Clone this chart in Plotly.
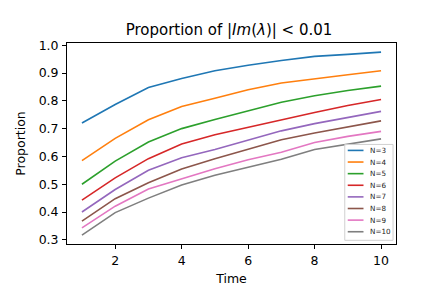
import plotly.graph_objects as go

# ---- data ----
time = [1, 2, 3, 4, 5, 6, 7, 8, 9, 10]
n3 = [0.720, 0.787, 0.848, 0.880, 0.908, 0.928, 0.945, 0.960, 0.967, 0.975]
n4 = [0.585, 0.665, 0.732, 0.780, 0.809, 0.840, 0.864, 0.880, 0.894, 0.908]
n5 = [0.500, 0.583, 0.652, 0.700, 0.733, 0.765, 0.795, 0.818, 0.837, 0.853]
n6 = [0.443, 0.523, 0.592, 0.645, 0.678, 0.705, 0.733, 0.758, 0.783, 0.805]
n7 = [0.400, 0.481, 0.550, 0.595, 0.625, 0.658, 0.692, 0.718, 0.740, 0.762]
n8 = [0.367, 0.448, 0.505, 0.555, 0.592, 0.627, 0.660, 0.684, 0.706, 0.728]
n9 = [0.343, 0.421, 0.483, 0.520, 0.556, 0.588, 0.615, 0.650, 0.672, 0.690]
n10 = [0.317, 0.398, 0.450, 0.497, 0.532, 0.560, 0.590, 0.625, 0.645, 0.663]

series = [n3, n4, n5, n6, n7, n8, n9, n10]
names = ["N=3", "N=4", "N=5", "N=6", "N=7", "N=8", "N=9", "N=10"]
colors = ["#1f77b4", "#ff7f0e", "#2ca02c", "#d62728",
          "#9467bd", "#8c564b", "#e377c2", "#7f7f7f"]
y_ticks = [0.3, 0.4, 0.5, 0.6, 0.7, 0.8, 0.9, 1.0]
x_ticks = [2, 4, 6, 8, 10]

# ---- layout geometry ----
W, H = 432, 288
ML, MR, MT, MB = 54, 44, 35, 35
PW, PH = W - ML - MR, H - MT - MB
FONT = "DejaVu Sans"


def px_x(px):
    return (px - ML) / PW


def px_y(py):
    return (H - MB - py) / PH


fig = go.Figure()
for name, vals, c in zip(names, series, colors):
    fig.add_trace(go.Scatter(x=time, y=vals, mode="lines", name=name,
                             line=dict(color=c, width=1.6), showlegend=False))

# compact legend (matplotlib style) in lower right
fig.add_shape(type="rect", xref="paper", yref="paper",
              x0=px_x(336), x1=px_x(385), y0=px_y(249), y1=px_y(145),
              line=dict(color="#d0d0d0", width=1),
              fillcolor="rgba(255,255,255,0.8)", layer="above")
for i, (name, c) in enumerate(zip(names, colors)):
    yc = 151.5 + 12.6 * i
    fig.add_shape(type="line", xref="paper", yref="paper",
                  x0=px_x(339), x1=px_x(355), y0=px_y(yc), y1=px_y(yc),
                  line=dict(color=c, width=1.6), layer="above")
    fig.add_annotation(xref="paper", yref="paper", x=px_x(359.5), y=px_y(yc),
                       text=name, showarrow=False, xanchor="left",
                       yanchor="middle", font=dict(family=FONT, size=7.2, color="#222"))

axis_common = dict(showline=True, linecolor="black", linewidth=0.9, mirror=True,
                   ticks="outside", ticklen=4, tickwidth=0.9, tickcolor="black",
                   showgrid=False, zeroline=False, ticklabelstandoff=1,
                   tickfont=dict(family=FONT, size=12.5, color="black"))

fig.update_layout(
    width=W, height=H,
    margin=dict(l=ML, r=MR, t=MT, b=MB, pad=0),
    paper_bgcolor="white", plot_bgcolor="white",
    font=dict(family=FONT, color="black"),
    title=dict(text="Proportion of |<i>Im</i>(<i>λ</i>)| &lt; 0.01",
               x=(ML + PW / 2) / W, xanchor="center",
               y=1 - 22 / H, yanchor="middle", yref="container",
               font=dict(family=FONT, size=15, color="black")),
    xaxis=dict(range=[0.55, 10.45], tickvals=x_ticks,
               title=dict(text="Time", standoff=7,
                          font=dict(family=FONT, size=12.5, color="black")),
               **axis_common),
    yaxis=dict(range=[0.285, 1.008], tickvals=y_ticks,
               ticktext=[f"{v:.1f}" for v in y_ticks],
               title=dict(text="Proportion", standoff=10,
                          font=dict(family=FONT, size=12.5, color="black")),
               **axis_common),
)

fig.write_html("out.html")
